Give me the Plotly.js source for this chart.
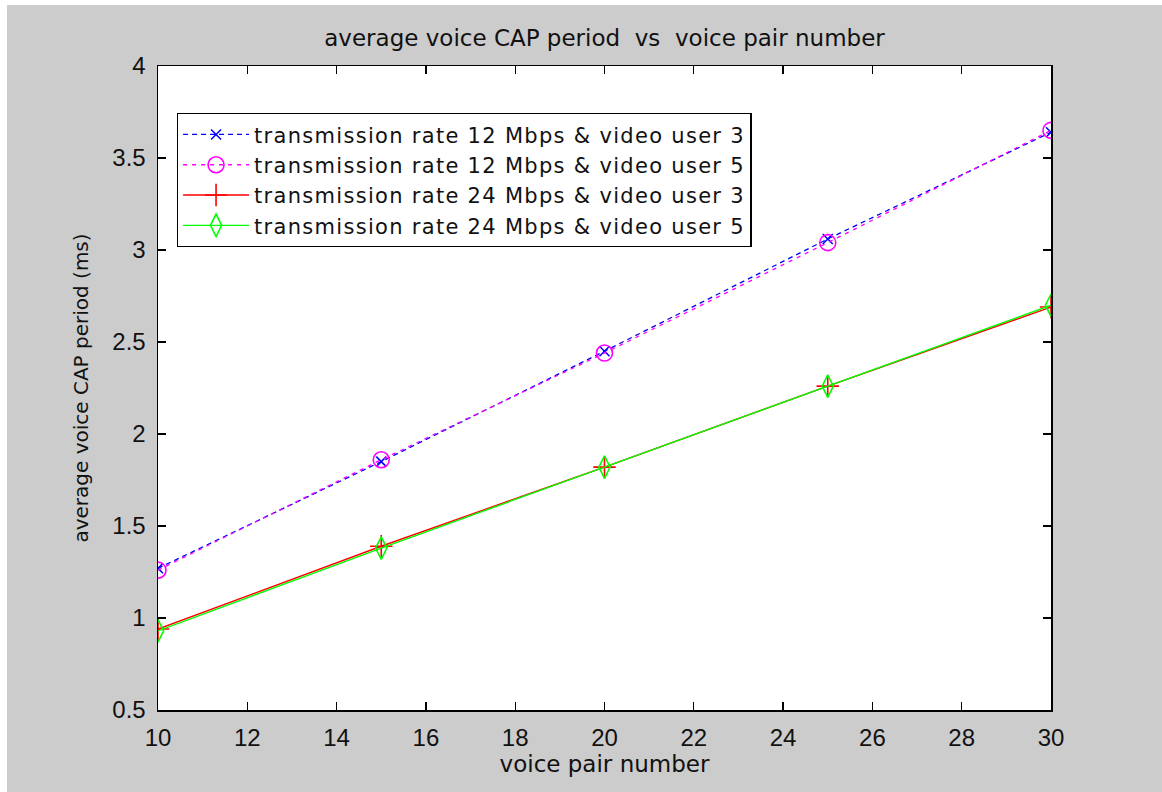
<!DOCTYPE html>
<html>
<head>
<meta charset="utf-8">
<script src="https://cdn.plot.ly/plotly-3.0.1.min.js"></script>
<style>
  html, body { margin: 0; padding: 0; background: #ffffff; }
  #chart { position: absolute; left: 7px; top: 5px; width: 1155px; height: 787px; }
  /* slightly open tracking for the legend entries (also applies while Plotly measures them) */
  .legendtext { letter-spacing: 1.3px; }
</style>
</head>
<body>
<div id="chart"></div>
<script>
// Voice pair counts on the x axis
const voicePairs = [10, 15, 20, 25, 30];

// Average voice CAP period (ms) for each configuration
const rate12User3 = [1.27, 1.85, 2.45, 3.06, 3.64];
const rate12User5 = [1.26, 1.86, 2.44, 3.04, 3.65];
const rate24User3 = [0.94, 1.39, 1.82, 2.26, 2.69];
const rate24User5 = [0.93, 1.38, 1.82, 2.26, 2.70];

const seriesNames = [
  'transmission rate 12 Mbps & video user 3',
  'transmission rate 12 Mbps & video user 5',
  'transmission rate 24 Mbps & video user 3',
  'transmission rate 24 Mbps & video user 5'
];

const xTicks = [10, 12, 14, 16, 18, 20, 22, 24, 26, 28, 30];
const yTicks = [0.5, 1, 1.5, 2, 2.5, 3, 3.5, 4];

const TEXT_FONT = 'DejaVu Sans, Verdana, sans-serif';
const TICK_FONT = 'Liberation Sans, Arial, sans-serif';
const INK = '#111111';

const traces = [
  {
    x: voicePairs, y: rate12User3, name: seriesNames[0],
    mode: 'lines+markers',
    line: { color: '#0000ff', width: 1.3, dash: '5px,4px' },
    marker: { symbol: 'x-thin-open', size: 10, color: '#0000ff', line: { color: '#0000ff', width: 1.5 } }
  },
  {
    x: voicePairs, y: rate12User5, name: seriesNames[1],
    mode: 'lines+markers',
    line: { color: '#ff00ff', width: 1.3, dash: '4px,5px' },
    marker: { symbol: 'circle-open', size: 16, color: '#ff00ff', line: { color: '#ff00ff', width: 1.6 } }
  },
  {
    x: voicePairs, y: rate24User3, name: seriesNames[2],
    mode: 'lines+markers',
    line: { color: '#ff0000', width: 1.4 },
    marker: { symbol: 'cross-thin-open', size: 16, color: '#ff0000', line: { color: '#ff0000', width: 1.6 } }
  },
  {
    x: voicePairs, y: rate24User5, name: seriesNames[3],
    mode: 'lines+markers',
    line: { color: '#00ff00', width: 1.4 },
    marker: { symbol: 'diamond-tall-open', size: 16, color: '#00ff00', line: { color: '#00ff00', width: 1.6 } }
  }
];

const axisCommon = {
  showgrid: false,
  zeroline: false,
  showline: true,
  linecolor: '#000000',
  linewidth: 1.5,
  mirror: 'ticks',
  ticks: 'inside',
  ticklen: 8,
  tickwidth: 1.3,
  tickcolor: '#000000',
  ticklabelstandoff: 6,
  tickfont: { family: TICK_FONT, size: 24, color: INK }
};

const layout = {
  width: 1155,
  height: 787,
  paper_bgcolor: '#cccccc',
  plot_bgcolor: '#ffffff',
  margin: { l: 151, r: 111, t: 61, b: 82 },
  showlegend: true,
  title: {
    text: 'average voice CAP period\u00a0\u00a0vs\u00a0\u00a0voice pair number',
    font: { family: TEXT_FONT, size: 23, color: INK },
    x: 0.5, xanchor: 'center', xref: 'paper',
    y: 0.958, yanchor: 'middle'
  },
  xaxis: Object.assign({}, axisCommon, {
    range: [10, 30],
    tickvals: xTicks,
    ticktext: xTicks.map(String),
    title: { text: 'voice pair number', font: { family: TEXT_FONT, size: 23, color: INK }, standoff: 4 }
  }),
  yaxis: Object.assign({}, axisCommon, {
    range: [0.5, 4],
    tickvals: yTicks,
    ticktext: yTicks.map(String),
    title: { text: 'average voice CAP period (ms)', font: { family: TEXT_FONT, size: 20, color: INK }, standoff: 18 }
  }),
  legend: {
    x: 0.021, y: 0.927, xanchor: 'left', yanchor: 'top',
    bgcolor: '#ffffff',
    bordercolor: '#000000',
    borderwidth: 1.3,
    font: { family: TEXT_FONT, size: 21, color: INK },
    tracegroupgap: 0,
    itemwidth: 66
  }
};

Plotly.newPlot('chart', traces, layout, { displayModeBar: false, staticPlot: true });
</script>
</body>
</html>
